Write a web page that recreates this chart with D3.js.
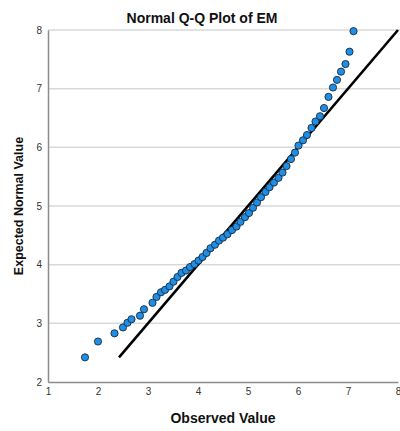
<!DOCTYPE html>
<html>
<head>
<meta charset="utf-8">
<script src="https://cdn.jsdelivr.net/npm/d3@7.9.0/dist/d3.min.js"></script>
<style>
  body { margin: 0; background: #fff; }
  svg { display: block; font-family: "Liberation Sans", Arial, sans-serif; }
</style>
</head>
<body>
<svg id="chart" width="400" height="431"></svg>
<script>
const observed = [1.74, 2.0, 2.33, 2.5, 2.59, 2.67, 2.84, 2.92, 3.09, 3.17,
  3.26, 3.34, 3.43, 3.51, 3.59, 3.67, 3.76, 3.84, 3.93, 4.01,
  4.09, 4.17, 4.25, 4.34, 4.42, 4.5, 4.59, 4.68, 4.77, 4.85,
  4.94, 5.02, 5.1, 5.18, 5.26, 5.35, 5.43, 5.52, 5.61, 5.69,
  5.77, 5.86, 5.94, 6.01, 6.1, 6.18, 6.27, 6.35, 6.44, 6.52,
  6.61, 6.7, 6.78, 6.86, 6.95, 7.03, 7.11];
const expected = [2.42, 2.69, 2.83, 2.93, 3.01, 3.07, 3.13, 3.24, 3.35, 3.45,
  3.53, 3.57, 3.63, 3.71, 3.79, 3.86, 3.9, 3.96, 4.01, 4.07,
  4.13, 4.2, 4.28, 4.34, 4.41, 4.46, 4.52, 4.59, 4.65, 4.73,
  4.81, 4.88, 4.97, 5.06, 5.15, 5.24, 5.32, 5.4, 5.48, 5.57,
  5.68, 5.8, 5.91, 6.03, 6.12, 6.21, 6.33, 6.44, 6.53, 6.67,
  6.86, 7.02, 7.15, 7.29, 7.42, 7.63, 7.98];
const refLine = [2.42, 8];
const xTicks = [1, 2, 3, 4, 5, 6, 7, 8];
const yTicks = [2, 3, 4, 5, 6, 7, 8];

const svg = d3.select('#chart');
const margin = { left: 48, right: 2, top: 30, bottom: 49 };
const x = d3.scaleLinear().domain([1, 8]).range([margin.left, 400 - margin.right]);
const y = d3.scaleLinear().domain([2, 8]).range([431 - margin.bottom, margin.top]);

// gridlines
svg.append('g')
  .selectAll('line')
  .data(yTicks.slice(1))
  .join('line')
  .attr('x1', x(1)).attr('x2', 400)
  .attr('y1', d => y(d)).attr('y2', d => y(d))
  .attr('stroke', '#d9d9d9')
  .attr('stroke-width', 1.5);

// axes
const xAxis = svg.append('g')
  .attr('transform', `translate(0,${y(2)})`)
  .call(d3.axisBottom(x).tickValues(xTicks).tickFormat(d3.format('d')).tickSize(0).tickPadding(6));
const yAxis = svg.append('g')
  .attr('transform', `translate(${x(1)},0)`)
  .call(d3.axisLeft(y).tickValues(yTicks).tickFormat(d3.format('d')).tickSize(0).tickPadding(6));

[xAxis, yAxis].forEach(g => {
  g.select('.domain').attr('stroke', '#8c8c8c').attr('stroke-width', 1.5);
  g.selectAll('text')
    .attr('fill', '#333')
    .style('font-size', '10px')
    .style('font-family', '"Liberation Sans", Arial, sans-serif');
});

// reference line
svg.append('line')
  .attr('x1', x(refLine[0])).attr('y1', y(refLine[0]))
  .attr('x2', x(refLine[1])).attr('y2', y(refLine[1]))
  .attr('stroke', '#000')
  .attr('stroke-width', 2.6);

// points
svg.append('g')
  .selectAll('circle')
  .data(observed.map((o, i) => [o, expected[i]]))
  .join('circle')
  .attr('cx', d => x(d[0]))
  .attr('cy', d => y(d[1]))
  .attr('r', 3.6)
  .attr('fill', '#1e8ee6')
  .attr('stroke', '#1a2a3a')
  .attr('stroke-width', 0.9);

// titles
svg.append('text')
  .attr('x', 202).attr('y', 23)
  .attr('text-anchor', 'middle')
  .style('font-size', '14px').style('font-weight', 'bold')
  .attr('fill', '#111')
  .text('Normal Q-Q Plot of EM');

svg.append('text')
  .attr('x', (x(1) + x(8)) / 2).attr('y', 423)
  .attr('text-anchor', 'middle')
  .style('font-size', '14px').style('font-weight', 'bold')
  .attr('fill', '#111')
  .text('Observed Value');

svg.append('text')
  .attr('transform', `translate(23,${(y(2) + y(8)) / 2}) rotate(-90)`)
  .attr('text-anchor', 'middle')
  .style('font-size', '12.5px').style('font-weight', 'bold')
  .attr('fill', '#111')
  .text('Expected Normal Value');
</script>
</body>
</html>
